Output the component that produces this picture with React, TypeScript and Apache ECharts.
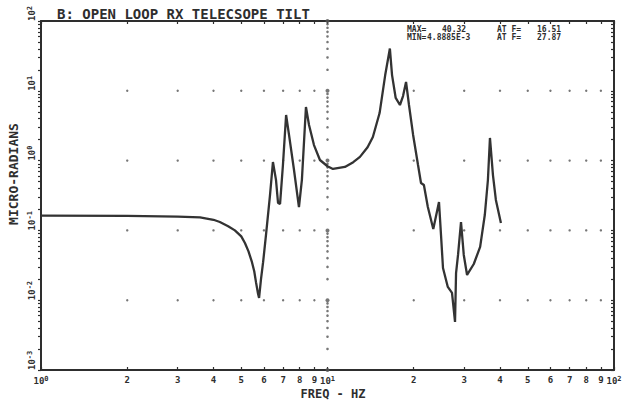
import React, { useEffect, useRef } from "react";
import * as echarts from "echarts";

// Frequency (Hz) and response (micro-radians)
const freqHz = [
  1.0, 2.0, 3.0, 3.59, 4.0, 4.21, 4.5, 4.75, 5.0, 5.15, 5.3, 5.45, 5.55, 5.63, 5.72, 5.77,
  5.86, 5.96, 6.1, 6.3, 6.45, 6.61, 6.72, 6.83, 6.99, 7.17, 7.34, 7.64, 7.95, 8.14, 8.41,
  8.62, 8.97, 9.41, 10.0, 10.45, 11.5, 12.3, 12.98, 13.8, 14.4, 15.2, 15.9, 16.51, 16.8,
  17.3, 17.9, 18.35, 18.8, 19.25, 19.9, 20.7, 21.2, 21.7, 22.4, 23.4, 24.5, 24.9, 25.3,
  26.3, 27.2, 27.87, 28.1, 28.55, 29.24, 29.9, 30.7, 32.4, 34.1, 35.4, 36.3, 36.9, 37.8,
  38.7, 40.3,
];
const microRadians = [
  0.163, 0.162, 0.158, 0.154, 0.142, 0.132, 0.115, 0.1, 0.082, 0.066, 0.05, 0.035, 0.026,
  0.018, 0.0125, 0.0108, 0.02, 0.035, 0.086, 0.32, 0.955, 0.53, 0.247, 0.24, 0.865, 4.5,
  2.33, 0.733, 0.216, 0.53, 5.86, 3.24, 1.67, 1.02, 0.83, 0.76, 0.81, 0.95, 1.13, 1.55,
  2.18, 4.8, 16.8, 40.32, 16.8, 7.9, 6.26, 8.4, 13.4, 6.26, 2.33, 0.865, 0.478, 0.447,
  0.216, 0.105, 0.255, 0.086, 0.0289, 0.0155, 0.0127, 0.0048885, 0.0245, 0.0445, 0.132,
  0.0445, 0.023, 0.033, 0.058, 0.166, 0.527, 2.11, 0.62, 0.273, 0.128,
];

const xDecades = [1, 10];
const xMax = 100;
const multipliers = [1, 2, 3, 4, 5, 6, 7, 8, 9];
const yDecades = [0.001, 0.01, 0.1, 1, 10];
const yMax = 100;
const gridRowsY = [0.01, 0.1, 1, 10];
const gridColumnX = 10;

const titleText = "B: OPEN LOOP RX TELECSOPE TILT";
const yName = "MICRO-RADIANS";
const xName = "FREQ - HZ";
const maxLine = ["MAX=", "40.32", "AT F=", "16.51"];
const minLine = ["MIN=", "4.8885E-3", "AT F=", "27.87"];

const FAM = "'DejaVu Sans Mono', monospace";
const INK = "#2e2e2e";

const xTicks: number[] = [];
xDecades.forEach((d) => multipliers.forEach((m) => xTicks.push(+(m * d).toPrecision(6))));
xTicks.push(xMax);
const yTicks: number[] = [];
yDecades.forEach((d) => multipliers.forEach((m) => yTicks.push(+(m * d).toPrecision(6))));
yTicks.push(yMax);
const yMajor = [...yDecades, yMax];

function isPow10(v: number) {
  const e = Math.round(Math.log10(v));
  return Math.abs(v - Math.pow(10, e)) < 1e-6 * v;
}

export default function App() {
  const ref = useRef<HTMLDivElement>(null);
  useEffect(() => {
    if (!ref.current) return;
    const chart = echarts.init(ref.current, null, { renderer: "svg" });

    const rich = {
      b: { fontFamily: FAM, fontWeight: "bold", fontSize: 9, color: INK },
      s: { fontFamily: FAM, fontWeight: "bold", fontSize: 7, color: INK, verticalAlign: "top", padding: [0, 0, 4, 0] },
    };
    const xFmt = (v: number) => {
      if (isPow10(v)) return `{b|10}{s|${Math.round(Math.log10(v))}}`;
      const e = Math.floor(Math.log10(v) + 1e-9);
      return `{b|${Math.round(v / Math.pow(10, e))}}`;
    };
    const yFmt = (v: number) => `{b|10}{s|${Math.round(Math.log10(v))}}`;

    const dots: number[][] = [];
    gridRowsY.forEach((y) =>
      xTicks.forEach((x) => {
        if (x !== 1 && x !== xMax && x !== gridColumnX) dots.push([x, y]);
      })
    );
    const colMinor: number[][] = [];
    const colMajor: number[][] = [];
    yTicks.forEach((y) => {
      if (isPow10(y)) colMajor.push([gridColumnX, y]);
      else colMinor.push([gridColumnX, y]);
    });

    const axisLine = { show: true, lineStyle: { color: INK, width: 2 } };
    const tickStyle = { color: INK, width: 1.2 };

    chart.setOption({
      animation: false,
      backgroundColor: "#ffffff",
      grid: { left: 41, right: 23, top: 21, bottom: 38 },
      xAxis: [
        {
          type: "log",
          logBase: 10,
          min: 1,
          max: xMax,
          position: "bottom",
          axisLine,
          axisTick: { show: true, customValues: xTicks, inside: true, length: 3, lineStyle: tickStyle },
          axisLabel: { show: true, customValues: xTicks, formatter: xFmt, rich, margin: 5 },
          splitLine: { show: false },
          minorTick: { show: false },
        },
        {
          type: "log",
          logBase: 10,
          min: 1,
          max: xMax,
          position: "top",
          axisLine,
          axisTick: { show: true, customValues: xTicks, inside: true, length: 3, lineStyle: tickStyle },
          axisLabel: { show: false },
          splitLine: { show: false },
        },
      ],
      yAxis: [
        {
          type: "log",
          logBase: 10,
          min: yDecades[0],
          max: yMax,
          position: "left",
          axisLine,
          axisTick: { show: true, customValues: yTicks, inside: false, length: 3, lineStyle: tickStyle },
          axisLabel: {
            show: true,
            customValues: yMajor,
            formatter: yFmt,
            rich,
            rotate: 90,
            align: "left",
            verticalAlign: "bottom",
            margin: 4,
          },
          splitLine: { show: false },
        },
        {
          type: "log",
          logBase: 10,
          min: yDecades[0],
          max: yMax,
          position: "right",
          axisLine,
          axisTick: { show: true, customValues: yTicks, inside: true, length: 3, lineStyle: tickStyle },
          axisLabel: { show: false },
          splitLine: { show: false },
        },
      ],
      series: [
        {
          type: "scatter",
          data: dots,
          symbolSize: 2.4,
          itemStyle: { color: "#555" },
          silent: true,
          z: 1,
        },
        {
          type: "scatter",
          data: colMinor,
          symbolSize: 2.6,
          itemStyle: { color: "#555" },
          silent: true,
          z: 1,
        },
        {
          type: "scatter",
          data: colMajor,
          symbolSize: 4,
          itemStyle: { color: "#555" },
          silent: true,
          z: 1,
        },
        {
          type: "line",
          data: freqHz.map((f, i) => [f, microRadians[i]]),
          showSymbol: false,
          symbol: "none",
          lineStyle: { color: "#333", width: 2.3 },
          z: 3,
        },
      ],
      graphic: [
        {
          type: "text",
          left: 57,
          top: 7,
          style: { text: titleText, fontFamily: FAM, fontWeight: "bold", fontSize: 14, fill: INK },
        },
        {
          type: "text",
          x: 13,
          y: 174,
          rotation: Math.PI / 2,
          style: {
            text: yName,
            fontFamily: FAM,
            fontWeight: "bold",
            fontSize: 13,
            fill: INK,
            align: "center",
            verticalAlign: "middle",
          },
        },
        {
          type: "text",
          x: 333,
          y: 394,
          style: {
            text: xName,
            fontFamily: FAM,
            fontWeight: "bold",
            fontSize: 12,
            fill: INK,
            align: "center",
            verticalAlign: "middle",
          },
        },
        ...[maxLine, minLine].flatMap((line, r) =>
          line.map((t, c) => ({
            type: "text",
            x: [407, c === 1 && r === 1 ? 427 : 442, 497, 537][c],
            y: 29 + r * 8,
            style: {
              text: t,
              fontFamily: FAM,
              fontWeight: "bold",
              fontSize: 8,
              fill: INK,
              verticalAlign: "middle",
            },
          }))
        ),
      ],
    });
    return () => chart.dispose();
  }, []);
  return (
    <div
      ref={ref}
      style={{ position: "fixed", left: 0, top: 0, width: 637, height: 408 }}
    />
  );
}
